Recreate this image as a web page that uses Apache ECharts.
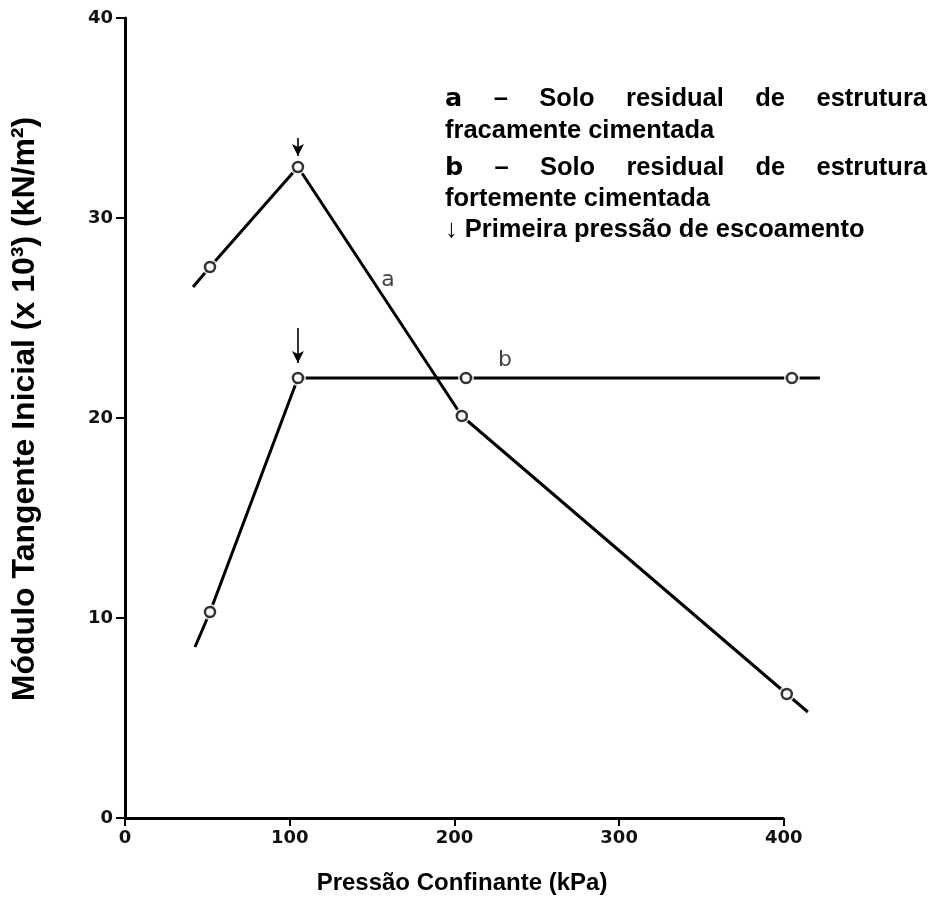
<!DOCTYPE html>
<html>
<head>
<meta charset="utf-8">
<script src="https://cdn.jsdelivr.net/npm/echarts@6/dist/echarts.min.js"></script>
<style>
  html, body { margin: 0; padding: 0; background: #ffffff; }
  #chart { width: 935px; height: 907px; }
</style>
</head>
<body>
<div id="chart"></div>
<script>
// Confining pressure (kPa) vs initial tangent modulus (x 10^3 kN/m^2)
const xTicks = [0, 100, 200, 300, 400];
const yTicks = [0, 10, 20, 30, 40];

// Curve a: weakly cemented residual soil (measured points)
const aX = [51.6, 105, 204.5, 401.8];
const aY = [27.55, 32.55, 20.1, 6.2];
// Curve a: short extensions drawn past the first and last points
const aTailStart = [41.3, 26.55];
const aTailEnd = [414.6, 5.3];

// Curve b: strongly cemented residual soil (measured points)
const bX = [51.6, 105, 207, 404.9];
const bY = [10.3, 22.0, 22.0, 22.0];
const bTailStart = [42.5, 8.55];
const bTailEnd = [421.9, 22.0];

// First yield pressure arrows: [x, top, tip]
const yieldArrows = [
  [105, 34.0, 33.1],
  [105, 24.5, 22.75]
];

// Curve tags
const curveTags = [
  { name: 'a', value: [159.7, 26.9] },
  { name: 'b', value: [230.7, 22.9] }
];

const measuredA = aX.map((x, i) => [x, aY[i]]);
const measuredB = bX.map((x, i) => [x, bY[i]]);
const lineA = [aTailStart].concat(measuredA, [aTailEnd]);
const lineB = [bTailStart].concat(measuredB, [bTailEnd]);
const allMeasured = measuredA.concat(measuredB);

// The plotting area runs a little past the last tick so the curve ends show
const xExtentMax = 425;

const tickFont = { color: '#111', fontFamily: 'DejaVu Sans', fontWeight: 'bold', fontSize: 18 };
const NOTE_SIZE = 25.5;
const noteFont = { fill: '#000', fontFamily: 'Liberation Sans', fontWeight: 'bold', fontSize: NOTE_SIZE, verticalAlign: 'middle' };

const chart = echarts.init(document.getElementById('chart'), null, { renderer: 'canvas' });

// Justified note lines are laid out word by word between a left and right edge
function justifiedLine(words, left, right, y) {
  const out = [];
  const ctx = document.createElement('canvas').getContext('2d');
  const widths = words.map(w => {
    ctx.font = w.font || ('bold ' + NOTE_SIZE + 'px "Liberation Sans"');
    return ctx.measureText(w.text).width;
  });
  const total = widths.reduce((s, v) => s + v, 0);
  const gap = (right - left - total) / (words.length - 1);
  let x = left;
  words.forEach((w, i) => {
    out.push({
      type: 'text', x: x, y: y,
      style: Object.assign({}, noteFont, { text: w.text }, w.style || {})
    });
    x += widths[i] + gap;
  });
  return out;
}

function plainLine(text, y) {
  return { type: 'text', x: 445, y: y, style: Object.assign({}, noteFont, { text: text }) };
}

const bullet = (t) => ({
  text: t, font: '900 ' + NOTE_SIZE + 'px "DejaVu Sans"',
  style: { fontFamily: 'DejaVu Sans', fontWeight: 900 }
});

const graphics = []
  .concat(justifiedLine([bullet('a'), { text: '–' }, { text: 'Solo' }, { text: 'residual' }, { text: 'de' }, { text: 'estrutura' }], 445, 927, 99))
  .concat([plainLine('fracamente cimentada', 131)])
  .concat(justifiedLine([bullet('b'), { text: '–' }, { text: 'Solo' }, { text: 'residual' }, { text: 'de' }, { text: 'estrutura' }], 445, 927, 168))
  .concat([plainLine('fortemente cimentada', 199), plainLine('↓ Primeira pressão de escoamento', 230)]);

chart.setOption({
  animation: false,
  backgroundColor: '#ffffff',
  grid: { left: 125, right: 110, top: 18, bottom: 89, containLabel: false, outerBoundsMode: 'none' },
  xAxis: {
    type: 'value', min: xTicks[0], max: xExtentMax,
    name: 'Pressão Confinante (kPa)', nameLocation: 'middle', nameGap: 53,
    nameTextStyle: { color: '#000', fontFamily: 'Liberation Sans', fontWeight: 'bold', fontSize: 24, padding: [0, 26, 0, 0] },
    axisLine: { show: false },
    axisTick: { show: true, length: 8, customValues: xTicks, lineStyle: { color: '#000', width: 2 } },
    axisLabel: Object.assign({ margin: 11, customValues: xTicks }, tickFont),
    splitLine: { show: false }
  },
  yAxis: {
    type: 'value', min: yTicks[0], max: yTicks[yTicks.length - 1], interval: 10,
    name: 'Módulo Tangente Inicial (x 10³) (kN/m²)', nameLocation: 'middle', nameGap: 84,
    nameRotate: 90,
    nameTextStyle: { color: '#000', fontFamily: 'Liberation Sans', fontWeight: 'bold', fontSize: 32, padding: [0, 0, 0, 18] },
    axisLine: { show: true, lineStyle: { color: '#000', width: 3 } },
    axisTick: { show: true, length: 9, lineStyle: { color: '#000', width: 2 } },
    axisLabel: Object.assign({ margin: 12 }, tickFont),
    splitLine: { show: false }
  },
  graphic: graphics,
  series: [
    {
      type: 'line', data: lineA, showSymbol: false, z: 2,
      lineStyle: { color: '#000', width: 3 },
      markLine: {
        silent: true, symbol: ['none', 'arrow'], symbolSize: [9, 12],
        lineStyle: { color: '#000', width: 1.6, type: 'solid' },
        label: { show: false },
        data: yieldArrows.map(a => [{ coord: [a[0], a[1]] }, { coord: [a[0], a[2]] }])
      }
    },
    {
      type: 'line', data: lineB, showSymbol: false, z: 2,
      lineStyle: { color: '#000', width: 3 },
      // horizontal axis line, drawn from the first to the last tick
      markLine: {
        silent: true, symbol: ['none', 'none'],
        lineStyle: { color: '#000', width: 3, type: 'solid' },
        label: { show: false },
        data: [[{ coord: [xTicks[0], yTicks[0]] }, { coord: [xTicks[xTicks.length - 1], yTicks[0]] }]]
      }
    },
    {
      // white halo separating the lines from the open markers
      type: 'scatter', data: allMeasured, symbol: 'circle', symbolSize: 16, z: 3,
      itemStyle: { color: '#fff' }, silent: true
    },
    {
      type: 'scatter', data: allMeasured, symbol: 'circle', symbolSize: 10, z: 4,
      itemStyle: { color: '#fff', borderColor: '#000', borderWidth: 2.5 }, silent: true
    },
    {
      type: 'scatter', data: curveTags, symbolSize: 0, z: 5, silent: true,
      label: {
        show: true, position: 'inside', formatter: p => p.name,
        color: '#111', fontFamily: 'DejaVu Sans', fontSize: 22
      }
    }
  ]
});
</script>
</body>
</html>
